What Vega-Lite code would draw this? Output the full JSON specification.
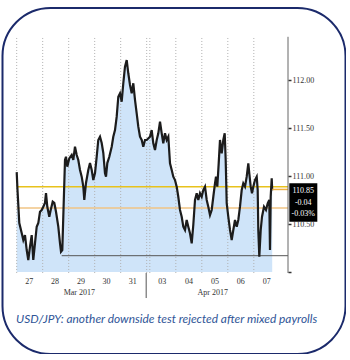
{
  "$schema": "https://vega.github.io/schema/vega-lite/v6.json",
  "width": 343,
  "height": 346,
  "autosize": {"type": "none"},
  "padding": {"left": 2.5, "top": 8, "right": 0, "bottom": 0},
  "background": "white",
  "config": {
    "view": {"stroke": "#1b2a6b", "strokeWidth": 2, "cornerRadius": 48, "fill": "white"}
  },
  "datasets": {
    "one": [{}],
    "price": [
      {"t": 0, "v": 111.04}, {"t": 0.031, "v": 110.854}, {"t": 0.1, "v": 110.51}, {"t": 0.192, "v": 110.406},
      {"t": 0.254, "v": 110.333}, {"t": 0.319, "v": 110.385}, {"t": 0.385, "v": 110.229}, {"t": 0.446, "v": 110.125},
      {"t": 0.512, "v": 110.264}, {"t": 0.577, "v": 110.385}, {"t": 0.638, "v": 110.125}, {"t": 0.704, "v": 110.302},
      {"t": 0.769, "v": 110.472}, {"t": 0.831, "v": 110.51}, {"t": 0.896, "v": 110.628}, {"t": 0.962, "v": 110.646},
      {"t": 1.023, "v": 110.68}, {"t": 1.088, "v": 110.719}, {"t": 1.127, "v": 110.823}, {"t": 1.177, "v": 110.68},
      {"t": 1.254, "v": 110.576}, {"t": 1.308, "v": 110.646}, {"t": 1.385, "v": 110.732}, {"t": 1.446, "v": 110.719},
      {"t": 1.512, "v": 110.628}, {"t": 1.6, "v": 110.472}, {"t": 1.665, "v": 110.302}, {"t": 1.704, "v": 110.211},
      {"t": 1.754, "v": 110.229}, {"t": 1.792, "v": 110.576}, {"t": 1.858, "v": 111.167}, {"t": 1.896, "v": 111.201},
      {"t": 1.946, "v": 111.097}, {"t": 2.023, "v": 111.184}, {"t": 2.115, "v": 111.219}, {"t": 2.177, "v": 111.167},
      {"t": 2.242, "v": 111.305}, {"t": 2.308, "v": 111.219}, {"t": 2.369, "v": 111.167}, {"t": 2.435, "v": 111.063},
      {"t": 2.5, "v": 110.993}, {"t": 2.562, "v": 110.889}, {"t": 2.6, "v": 110.75}, {"t": 2.665, "v": 110.927},
      {"t": 2.754, "v": 111.063}, {"t": 2.819, "v": 111.135}, {"t": 2.885, "v": 111.063}, {"t": 2.946, "v": 110.958},
      {"t": 3.012, "v": 111.031}, {"t": 3.077, "v": 111.201}, {"t": 3.138, "v": 111.375}, {"t": 3.204, "v": 111.409},
      {"t": 3.269, "v": 111.344}, {"t": 3.331, "v": 111.24}, {"t": 3.396, "v": 111.028}, {"t": 3.435, "v": 110.993},
      {"t": 3.485, "v": 111.135}, {"t": 3.562, "v": 111.201}, {"t": 3.654, "v": 111.305}, {"t": 3.715, "v": 111.409},
      {"t": 3.781, "v": 111.479}, {"t": 3.846, "v": 111.618}, {"t": 3.908, "v": 111.826}, {"t": 3.973, "v": 111.861},
      {"t": 4.038, "v": 111.774}, {"t": 4.1, "v": 111.966}, {"t": 4.165, "v": 112.139}, {"t": 4.231, "v": 112.208},
      {"t": 4.292, "v": 112.07}, {"t": 4.358, "v": 111.948}, {"t": 4.423, "v": 111.861}, {"t": 4.485, "v": 111.966},
      {"t": 4.55, "v": 111.792}, {"t": 4.615, "v": 111.653}, {"t": 4.677, "v": 111.514}, {"t": 4.742, "v": 111.409},
      {"t": 4.808, "v": 111.375}, {"t": 4.869, "v": 111.305}, {"t": 4.935, "v": 111.375}, {"t": 5.0, "v": 111.375},
      {"t": 5.127, "v": 111.409}, {"t": 5.192, "v": 111.479}, {"t": 5.254, "v": 111.341}, {"t": 5.319, "v": 111.271},
      {"t": 5.385, "v": 111.375}, {"t": 5.446, "v": 111.445}, {"t": 5.512, "v": 111.566}, {"t": 5.577, "v": 111.445},
      {"t": 5.638, "v": 111.341}, {"t": 5.704, "v": 111.445}, {"t": 5.769, "v": 111.375}, {"t": 5.831, "v": 111.409},
      {"t": 5.896, "v": 111.132}, {"t": 5.962, "v": 111.063}, {"t": 6.023, "v": 110.993}, {"t": 6.088, "v": 110.958},
      {"t": 6.154, "v": 110.889}, {"t": 6.215, "v": 110.784}, {"t": 6.281, "v": 110.646}, {"t": 6.346, "v": 110.576},
      {"t": 6.408, "v": 110.472}, {"t": 6.473, "v": 110.438}, {"t": 6.538, "v": 110.542}, {"t": 6.6, "v": 110.472},
      {"t": 6.665, "v": 110.403}, {"t": 6.731, "v": 110.299}, {"t": 6.792, "v": 110.49}, {"t": 6.858, "v": 110.75},
      {"t": 6.923, "v": 110.82}, {"t": 6.985, "v": 110.75}, {"t": 7.05, "v": 110.82}, {"t": 7.115, "v": 110.784},
      {"t": 7.177, "v": 110.854}, {"t": 7.242, "v": 110.889}, {"t": 7.308, "v": 110.75}, {"t": 7.369, "v": 110.68},
      {"t": 7.435, "v": 110.594}, {"t": 7.5, "v": 110.646}, {"t": 7.562, "v": 110.784}, {"t": 7.627, "v": 110.924},
      {"t": 7.665, "v": 110.993}, {"t": 7.715, "v": 110.889}, {"t": 7.769, "v": 111.132}, {"t": 7.819, "v": 111.375},
      {"t": 7.885, "v": 111.236}, {"t": 7.946, "v": 111.375}, {"t": 8.0, "v": 111.445}, {"t": 8.038, "v": 111.167},
      {"t": 8.077, "v": 110.716}, {"t": 8.138, "v": 110.576}, {"t": 8.204, "v": 110.438}, {"t": 8.269, "v": 110.333},
      {"t": 8.331, "v": 110.438}, {"t": 8.396, "v": 110.542}, {"t": 8.462, "v": 110.472}, {"t": 8.523, "v": 110.542},
      {"t": 8.588, "v": 110.68}, {"t": 8.654, "v": 110.854}, {"t": 8.715, "v": 110.924}, {"t": 8.781, "v": 110.889},
      {"t": 8.846, "v": 110.993}, {"t": 8.908, "v": 111.132}, {"t": 8.946, "v": 111.028}, {"t": 9.0, "v": 110.889},
      {"t": 9.05, "v": 110.82}, {"t": 9.1, "v": 110.889}, {"t": 9.165, "v": 110.958}, {"t": 9.231, "v": 110.993},
      {"t": 9.269, "v": 110.854}, {"t": 9.292, "v": 110.438}, {"t": 9.331, "v": 110.159}, {"t": 9.385, "v": 110.438},
      {"t": 9.435, "v": 110.576}, {"t": 9.512, "v": 110.68}, {"t": 9.588, "v": 110.646}, {"t": 9.654, "v": 110.716},
      {"t": 9.715, "v": 110.75}, {"t": 9.742, "v": 110.229}, {"t": 9.769, "v": 110.784}, {"t": 9.808, "v": 110.976},
      {"t": 9.827, "v": 110.85}
    ],
    "grid": [
      {"t": 0}, {"t": 1}, {"t": 2}, {"t": 3}, {"t": 4}, {"t": 5}, {"t": 5.12},
      {"t": 6.12}, {"t": 7.12}, {"t": 8.12}, {"t": 9.12}
    ],
    "days": [
      {"t": 0.48, "label": "27"}, {"t": 1.47, "label": "28"}, {"t": 2.47, "label": "29"},
      {"t": 3.45, "label": "30"}, {"t": 4.46, "label": "31"}, {"t": 5.6, "label": "03"},
      {"t": 6.63, "label": "04"}, {"t": 7.63, "label": "05"}, {"t": 8.62, "label": "06"},
      {"t": 9.62, "label": "07"}
    ],
    "months": [
      {"t": 2.41, "label": "Mar 2017"}, {"t": 7.54, "label": "Apr 2017"}
    ],
    "box": [
      {"label": "110.85", "v": 110.844}, {"label": "-0.04", "v": 110.719}, {"label": "-0.03%", "v": 110.604}
    ]
  },
  "layer": [
    {
      "data": {"name": "price"},
      "mark": {"type": "area", "color": "#cfe4f9"},
      "encoding": {
        "x": {"field": "t", "type": "quantitative", "axis": null, "scale": {"domain": [-0.546, 12.646], "nice": false, "zero": false}},
        "y": {
          "field": "v", "type": "quantitative",
          "scale": {"domain": [109.146, 112.75], "nice": false, "zero": false},
          "axis": {
            "orient": "right", "offset": -57.5, "domain": false, "grid": false,
            "values": [110, 110.25, 110.5, 110.75, 111, 111.25, 111.5, 111.75, 112, 112.25],
            "labelExpr": "datum.value % 0.5 == 0 && datum.value > 110 ? format(datum.value, '.2f') : ''",
            "ticks": true, "tickSize": 3, "tickColor": "#333333", "tickWidth": 1.5,
            "labelPadding": 1, "labelFont": "Liberation Serif", "labelFontSize": 8,
            "labelColor": "#333333", "title": null, "labelBound": false, "labelOverlap": false,
            "labelFlush": false, "zindex": 1
          }
        },
        "y2": {"datum": 110}
      }
    },
    {
      "data": {"name": "grid"},
      "mark": {"type": "rule", "color": "#b0b0b0", "strokeDash": [1, 2], "strokeWidth": 1},
      "encoding": {
        "x": {"field": "t", "type": "quantitative", "axis": null},
        "y": {"datum": 109.99, "type": "quantitative"},
        "y2": {"datum": 112.45}
      }
    },
    {
      "data": {"name": "one"},
      "mark": {"type": "rule", "color": "#e8c21c", "strokeWidth": 1.5},
      "encoding": {
        "x": {"datum": 0, "type": "quantitative", "axis": null},
        "x2": {"datum": 10.435},
        "y": {"datum": 110.889, "type": "quantitative"}
      }
    },
    {
      "data": {"name": "one"},
      "mark": {"type": "rule", "color": "#f0c584", "strokeWidth": 1.5},
      "encoding": {
        "x": {"datum": 0, "type": "quantitative", "axis": null},
        "x2": {"datum": 10.435},
        "y": {"datum": 110.667, "type": "quantitative"}
      }
    },
    {
      "data": {"name": "one"},
      "mark": {"type": "rule", "color": "#555555", "strokeWidth": 1},
      "encoding": {
        "x": {"datum": 1.73, "type": "quantitative", "axis": null},
        "x2": {"datum": 10.435},
        "y": {"datum": 110.17, "type": "quantitative"}
      }
    },
    {
      "data": {"name": "price"},
      "mark": {"type": "line", "color": "#1c1c1c", "strokeWidth": 2.2, "strokeJoin": "miter"},
      "encoding": {
        "x": {"field": "t", "type": "quantitative", "axis": null},
        "y": {"field": "v", "type": "quantitative"}
      }
    },
    {
      "data": {"name": "one"},
      "mark": {"type": "rule", "color": "#f0b040", "strokeWidth": 1.5},
      "encoding": {
        "x": {"datum": 9.83, "type": "quantitative", "axis": null},
        "x2": {"datum": 10.435},
        "y": {"datum": 110.86, "type": "quantitative"}
      }
    },
    {
      "data": {"name": "one"},
      "mark": {"type": "rule", "color": "#666666", "strokeWidth": 1},
      "encoding": {
        "x": {"datum": 10.435, "type": "quantitative", "axis": null},
        "y": {"datum": 109.99, "type": "quantitative"},
        "y2": {"datum": 112.45}
      }
    },
    {
      "data": {"name": "one"},
      "mark": {"type": "rect", "color": "#000000"},
      "encoding": {
        "x": {"datum": 10.485, "type": "quantitative", "axis": null},
        "x2": {"datum": 11.562},
        "y": {"datum": 110.524, "type": "quantitative"},
        "y2": {"datum": 110.924}
      }
    },
    {
      "data": {"name": "box"},
      "mark": {"type": "text", "color": "white", "font": "Liberation Serif", "fontSize": 8, "align": "center", "baseline": "middle"},
      "encoding": {
        "x": {"datum": 11.02, "type": "quantitative", "axis": null},
        "y": {"field": "v", "type": "quantitative"},
        "text": {"field": "label"}
      }
    },
    {
      "data": {"name": "days"},
      "mark": {"type": "text", "color": "#333333", "font": "Liberation Serif", "fontSize": 8, "align": "center", "baseline": "middle"},
      "encoding": {
        "x": {"field": "t", "type": "quantitative", "axis": null},
        "y": {"datum": 109.899, "type": "quantitative"},
        "text": {"field": "label"}
      }
    },
    {
      "data": {"name": "months"},
      "mark": {"type": "text", "color": "#333333", "font": "Liberation Serif", "fontSize": 8, "align": "center", "baseline": "middle"},
      "encoding": {
        "x": {"field": "t", "type": "quantitative", "axis": null},
        "y": {"datum": 109.778, "type": "quantitative"},
        "text": {"field": "label"}
      }
    },
    {
      "data": {"name": "one"},
      "mark": {"type": "rule", "color": "#555555", "strokeWidth": 1},
      "encoding": {
        "x": {"datum": 4.98, "type": "quantitative", "axis": null},
        "y": {"datum": 109.729, "type": "quantitative"},
        "y2": {"datum": 109.99}
      }
    },
    {
      "data": {"name": "one"},
      "mark": {"type": "text", "color": "#2f5597", "font": "Lato", "fontStyle": "italic", "fontSize": 11.9, "align": "left", "baseline": "middle"},
      "encoding": {
        "x": {"datum": -0.027, "type": "quantitative", "axis": null},
        "y": {"datum": 109.507, "type": "quantitative"},
        "text": {"value": "USD/JPY: another downside test rejected after mixed payrolls"}
      }
    }
  ]
}
